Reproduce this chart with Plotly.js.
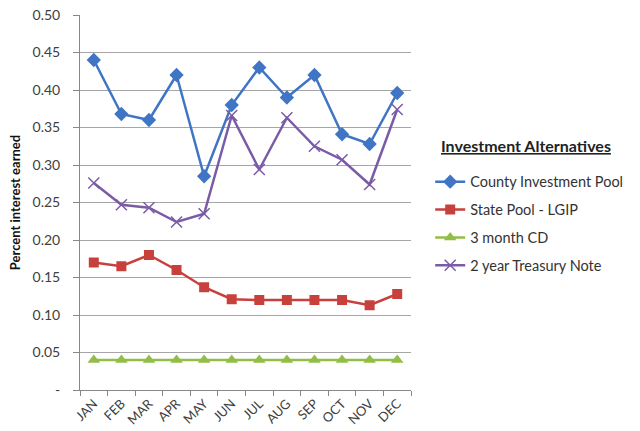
<!DOCTYPE html>
<html><head><meta charset="utf-8">
<script src="https://cdn.plot.ly/plotly-3.0.1.min.js"></script>
<style>body{margin:0;background:#fff}#c{width:640px;height:431px}</style>
</head><body><div id="c"></div>
<script>
var months = ["JAN","FEB","MAR","APR","MAY","JUN","JUL","AUG","SEP","OCT","NOV","DEC"];
var countyPool = [0.44,0.368,0.36,0.42,0.285,0.38,0.43,0.39,0.42,0.341,0.328,0.396];
var statePool = [0.17,0.165,0.18,0.16,0.137,0.121,0.12,0.12,0.12,0.12,0.113,0.128];
var cd3month = [0.04,0.04,0.04,0.04,0.04,0.04,0.04,0.04,0.04,0.04,0.04,0.04];
var treasury2y = [0.276,0.247,0.243,0.224,0.235,0.366,0.294,0.363,0.325,0.307,0.274,0.374];
var yTicks = [0,0.05,0.10,0.15,0.20,0.25,0.30,0.35,0.40,0.45,0.50];
var yLabels = ["-","0.05","0.10","0.15","0.20","0.25","0.30","0.35","0.40","0.45","0.50"];
var legendTitle = "Investment Alternatives";

var traces = [
 {x:months,y:countyPool,name:"County Investment Pool",mode:"lines+markers",legendgroup:"a",
  line:{color:"#3F75C4",width:2.5},marker:{symbol:"diamond",size:11,color:"#3F75C4"}},
 {x:months,y:statePool,name:"State Pool - LGIP",mode:"lines+markers",legendgroup:"b",
  line:{color:"#C8403C",width:2.5},marker:{symbol:"square",size:10,color:"#C8403C"}},
 {x:months,y:cd3month,name:"3 month CD",mode:"lines+markers",legendgroup:"c",
  line:{color:"#92BE48",width:2.5},marker:{symbol:"triangle-up",size:11,color:"#92BE48"}},
 {x:months,y:treasury2y,name:"2 year Treasury Note",mode:"lines+markers",legendgroup:"d",
  line:{color:"#7B5BA6",width:2.5},marker:{symbol:"x-thin-open",size:11,line:{color:"#7B5BA6",width:1.5}}}
];
var layout = {
 width:640,height:431,
 margin:{l:80,r:219,t:15,b:41},
 paper_bgcolor:"#fff",plot_bgcolor:"#fff",
 font:{family:"Lato, 'Open Sans', sans-serif",size:12,color:"#404040"},
 showlegend:true,
 legend:{x:1.058,xanchor:"left",y:0.598,yanchor:"top",
  font:{size:14.5,color:"#333"},tracegroupgap:6,itemwidth:30},
 annotations:[{text:"<b><u>"+legendTitle+"</u></b>",xref:"paper",yref:"paper",x:1.085,y:0.651,
  xanchor:"left",yanchor:"middle",showarrow:false,font:{size:16,color:"#222"}}],
 xaxis:{type:"category",tickangle:-45,showgrid:false,showline:true,linecolor:"#888",
  ticks:"outside",tickson:"boundaries",ticklen:5,tickcolor:"#888",
  tickfont:{size:13,color:"#404040"},range:[-0.5,11.5]},
 yaxis:{range:[0,0.5],tickvals:yTicks,ticktext:yLabels,showgrid:true,gridcolor:"#A6A6A6",gridwidth:1,
  showline:true,linecolor:"#888",ticks:"outside",ticklen:6,tickcolor:"#888",zeroline:false,
  ticklabelstandoff:10,
  tickfont:{size:14,color:"#404040"},
  title:{text:"<b>Percent interest earned</b>",font:{size:13,color:"#111"},standoff:8}}
};
Plotly.newPlot("c",traces,layout,{displayModeBar:false,staticPlot:true});
</script></body></html>
